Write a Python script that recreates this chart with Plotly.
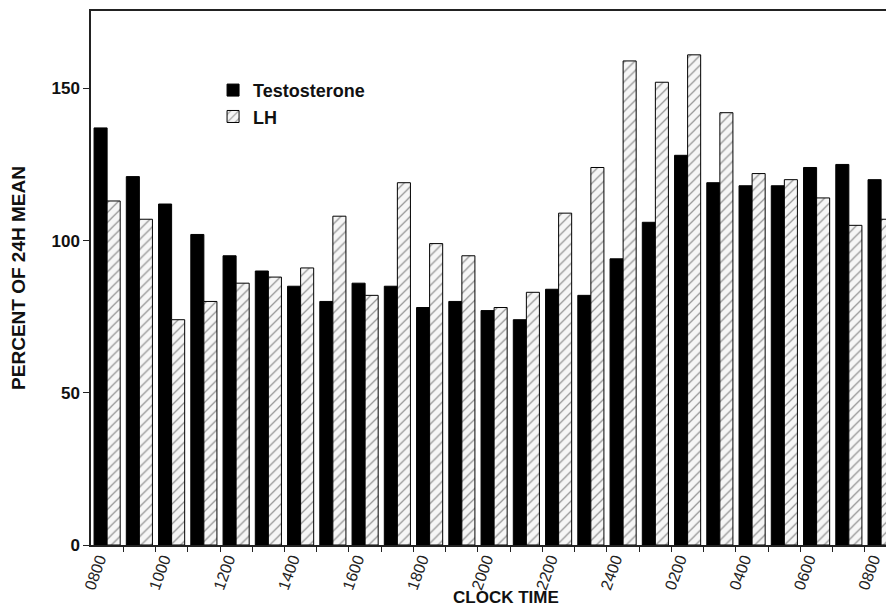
import plotly.graph_objects as go

hours = ["0800", "0900", "1000", "1100", "1200", "1300", "1400", "1500", "1600",
         "1700", "1800", "1900", "2000", "2100", "2200", "2300", "2400", "0100",
         "0200", "0300", "0400", "0500", "0600", "0700", "0800"]
testosterone = [137, 121, 112, 102, 95, 90, 85, 80, 86, 85, 78, 80, 77, 74, 84,
                82, 94, 106, 128, 119, 118, 118, 124, 125, 120]
lh = [113, 107, 74, 80, 86, 88, 91, 108, 82, 119, 99, 95, 78, 83, 109, 124,
      159, 152, 161, 142, 122, 120, 114, 105, 107]
ytick_vals = [0, 50, 100, 150]

x = list(range(len(hours)))
FONT = "Liberation Sans, Arial, sans-serif"

fig = go.Figure()
fig.add_trace(go.Bar(
    x=x, y=testosterone, name="Testosterone",
    marker=dict(color="black", line=dict(color="black", width=1)),
))
fig.add_trace(go.Bar(
    x=x, y=lh, name="LH",
    marker=dict(color="#f6f6f6", line=dict(color="black", width=1),
                pattern=dict(shape="/", fgcolor="#333333", bgcolor="#f6f6f6",
                             size=7, solidity=0.18)),
))

fig.update_layout(
    width=886, height=599,
    margin=dict(l=83, r=0, t=3, b=62),
    paper_bgcolor="white", plot_bgcolor="white",
    barmode="group", bargap=0.19, bargroupgap=0,
    font=dict(family=FONT, color="#111111"),
    showlegend=True,
    legend=dict(x=0.152, y=0.886, xanchor="left", yanchor="top",
                bgcolor="rgba(0,0,0,0)",
                font=dict(size=18, family=FONT, weight="bold", color="#111111")),
    xaxis=dict(
        range=[-0.5, 24.4],
        tickmode="array", tickvals=[i - 0.25 for i in x[::2]], ticktext=hours[::2],
        tickangle=-70, ticks="", showgrid=False, zeroline=False,
        ticklabelstandoff=-3,
        tickfont=dict(size=16, color="#222222"),
        showline=True, linecolor="#222222", linewidth=1.5, mirror=True,
        minor=dict(tickmode="array", tickvals=[i - 0.5 for i in x[1:]],
                   ticks="outside", ticklen=5, tickcolor="#222222", showgrid=False),
    ),
    yaxis=dict(
        range=[0, 175.4],
        tickmode="array", tickvals=ytick_vals,
        ticks="outside", ticklen=6, tickcolor="#222222",
        showgrid=False, zeroline=False,
        showline=True, linecolor="#222222", linewidth=1.5,
        tickfont=dict(size=17, weight="bold", color="#111111"),
        title=dict(text="PERCENT OF 24H MEAN", standoff=21,
                   font=dict(size=19, weight="bold", color="#111111")),
        automargin=False,
    ),
    annotations=[dict(
        text="CLOCK TIME", xref="paper", yref="paper",
        x=0.517, y=-0.1199, xanchor="center", yanchor="bottom", showarrow=False,
        font=dict(size=17, weight="bold", color="#111111"),
    )],
)

fig.write_html("out.html")
